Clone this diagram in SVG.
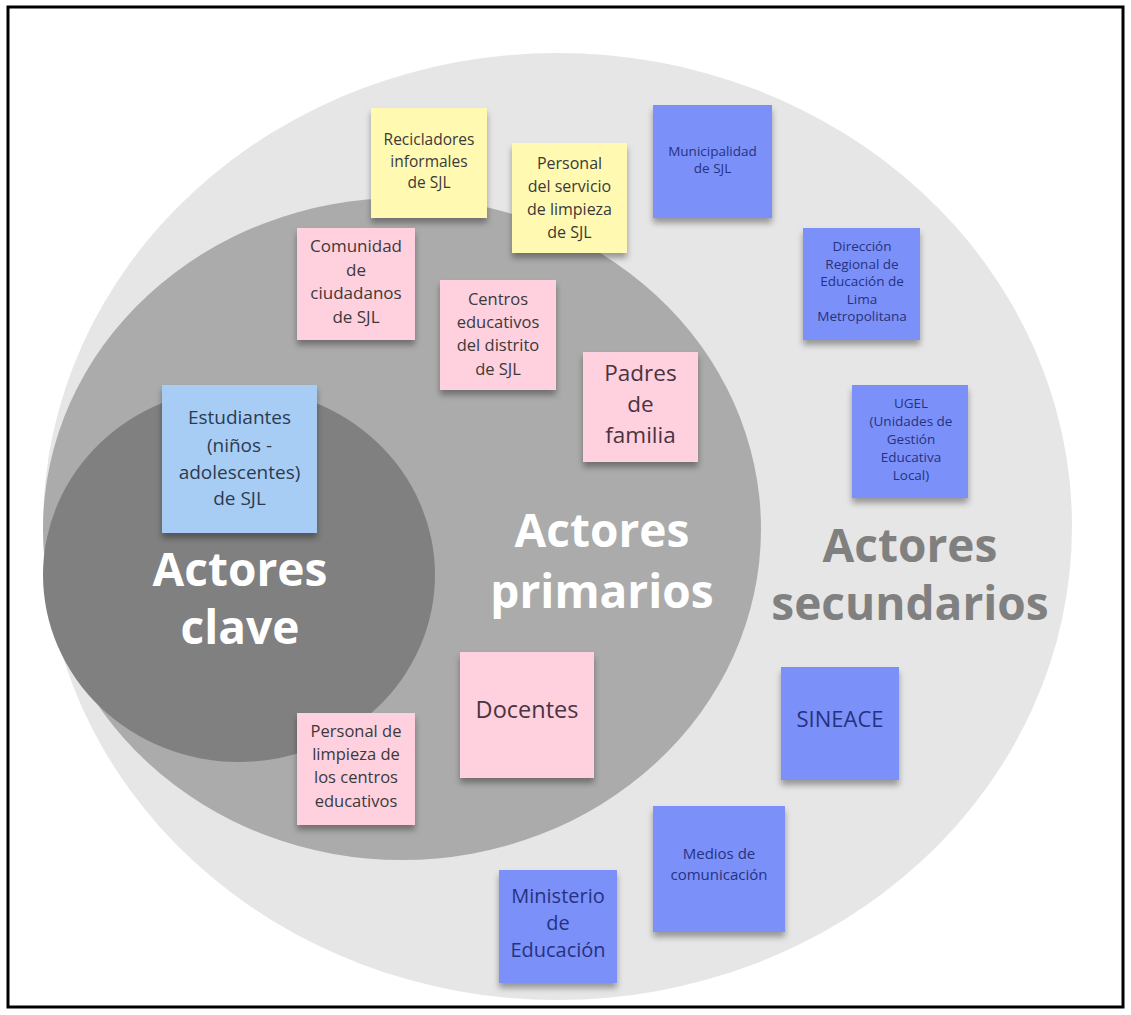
<svg xmlns="http://www.w3.org/2000/svg" width="1131" height="1015" viewBox="0 0 1131 1015">
<defs>
<filter id="sh" x="-20%" y="-20%" width="140%" height="150%">
<feDropShadow dx="0" dy="5" stdDeviation="3" flood-color="#000" flood-opacity="0.35"/>
</filter>
<style>
text{font-family:"Open Sans","DejaVu Sans",sans-serif;text-anchor:middle}
.yel{fill:#fff9b1;filter:url(#sh)}
.pnk{fill:#ffd0de;filter:url(#sh)}
.blu{fill:#7b90f9;filter:url(#sh)}
.lbl{fill:#a8cdf4;filter:url(#sh)}
.tk{fill:#3a3a3a}
.tp{fill:#4a3441}
.tb{fill:#25337e}
.tl{fill:#2b3b52}
.big{font-weight:700;font-size:46px}
</style>
</defs>
<rect x="0" y="0" width="1131" height="1015" fill="#ffffff"/>
<rect x="8" y="7" width="1115" height="1000" fill="none" stroke="#000" stroke-width="3"/>

<g id="rings">
<ellipse cx="557.5" cy="526.5" rx="514.5" ry="473.5" fill="#e6e6e6"/>
<ellipse cx="402" cy="529" rx="359" ry="331" fill="#ababab"/>
<ellipse cx="239" cy="575" rx="196" ry="187" fill="#808080"/>
</g>

<g id="labels">
<text class="big" x="240" y="586" fill="#ffffff">Actores</text>
<text class="big" x="240" y="644" fill="#ffffff">clave</text>
<text class="big" x="602" y="547" fill="#ffffff">Actores</text>
<text class="big" x="602" y="608" fill="#ffffff">primarios</text>
<text class="big" x="910" y="562" fill="#808080">Actores</text>
<text class="big" x="910" y="620" fill="#808080">secundarios</text>
</g>

<g id="n-recicladores">
<rect class="yel" x="371" y="108" width="116" height="110"/>
<text class="tk" font-size="15.5" x="429"><tspan x="429" y="145">Recicladores</tspan><tspan x="429" y="166.5">informales</tspan><tspan x="429" y="188">de SJL</tspan></text>
</g>

<g id="n-personal-servicio">
<rect class="yel" x="512" y="143" width="115" height="110"/>
<text class="tk" font-size="16" x="569.5"><tspan x="569.5" y="169">Personal</tspan><tspan x="569.5" y="192">del servicio</tspan><tspan x="569.5" y="215">de limpieza</tspan><tspan x="569.5" y="238">de SJL</tspan></text>
</g>

<g id="n-municipalidad">
<rect class="blu" x="653" y="105" width="119" height="113"/>
<text class="tb" font-size="13.5" x="712.5"><tspan x="712.5" y="156">Municipalidad</tspan><tspan x="712.5" y="173">de SJL</tspan></text>
</g>

<g id="n-direccion">
<rect class="blu" x="803" y="228" width="117" height="112"/>
<text class="tb" font-size="13.5" x="862"><tspan x="862" y="251">Dirección</tspan><tspan x="862" y="268.5">Regional de</tspan><tspan x="862" y="286">Educación de</tspan><tspan x="862" y="303.5">Lima</tspan><tspan x="862" y="321">Metropolitana</tspan></text>
</g>

<g id="n-ugel">
<rect class="blu" x="852" y="385" width="116" height="113"/>
<text class="tb" font-size="13.5" x="911"><tspan x="911" y="408">UGEL</tspan><tspan x="911" y="426">(Unidades de</tspan><tspan x="911" y="444">Gestión</tspan><tspan x="911" y="462">Educativa</tspan><tspan x="911" y="480">Local)</tspan></text>
</g>

<g id="n-comunidad">
<rect class="pnk" x="297" y="228" width="118" height="112"/>
<text class="tk" font-size="17" x="356"><tspan x="356" y="252">Comunidad</tspan><tspan x="356" y="276">de</tspan><tspan x="356" y="299">ciudadanos</tspan><tspan x="356" y="323">de SJL</tspan></text>
</g>

<g id="n-centros">
<rect class="pnk" x="440" y="280" width="116" height="110"/>
<text class="tk" font-size="16.5" x="498"><tspan x="498" y="305">Centros</tspan><tspan x="498" y="328">educativos</tspan><tspan x="498" y="351">del distrito</tspan><tspan x="498" y="375">de SJL</tspan></text>
</g>

<g id="n-padres">
<rect class="pnk" x="583" y="352" width="115" height="110"/>
<text class="tp" font-size="22.5" x="640.5"><tspan x="640.5" y="381">Padres</tspan><tspan x="640.5" y="412">de</tspan><tspan x="640.5" y="443">familia</tspan></text>
</g>

<g id="n-estudiantes">
<rect class="lbl" x="162" y="385" width="155" height="148"/>
<text class="tl" font-size="19" x="239.5"><tspan x="239.5" y="424">Estudiantes</tspan><tspan x="239.5" y="452">(niños -</tspan><tspan x="239.5" y="479">adolescentes)</tspan><tspan x="239.5" y="505">de SJL</tspan></text>
</g>

<g id="n-docentes">
<rect class="pnk" x="460" y="652" width="134" height="126"/>
<text class="tp" font-size="23.5" x="527" y="718">Docentes</text>
</g>

<g id="n-personal-limpieza">
<rect class="pnk" x="297" y="713" width="118" height="112"/>
<text class="tk" font-size="16.5" x="356"><tspan x="356" y="737">Personal de</tspan><tspan x="356" y="760">limpieza de</tspan><tspan x="356" y="783">los centros</tspan><tspan x="356" y="807">educativos</tspan></text>
</g>

<g id="n-sineace">
<rect class="blu" x="781" y="667" width="118" height="113"/>
<text class="tb" font-size="22" x="840" y="727">SINEACE</text>
</g>

<g id="n-medios">
<rect class="blu" x="653" y="806" width="132" height="126"/>
<text class="tb" font-size="15" x="719"><tspan x="719" y="859">Medios de</tspan><tspan x="719" y="880">comunicación</tspan></text>
</g>

<g id="n-ministerio">
<rect class="blu" x="499" y="870" width="118" height="113"/>
<text class="tb" font-size="20" x="558"><tspan x="558" y="903">Ministerio</tspan><tspan x="558" y="930">de</tspan><tspan x="558" y="957">Educación</tspan></text>
</g>
</svg>
